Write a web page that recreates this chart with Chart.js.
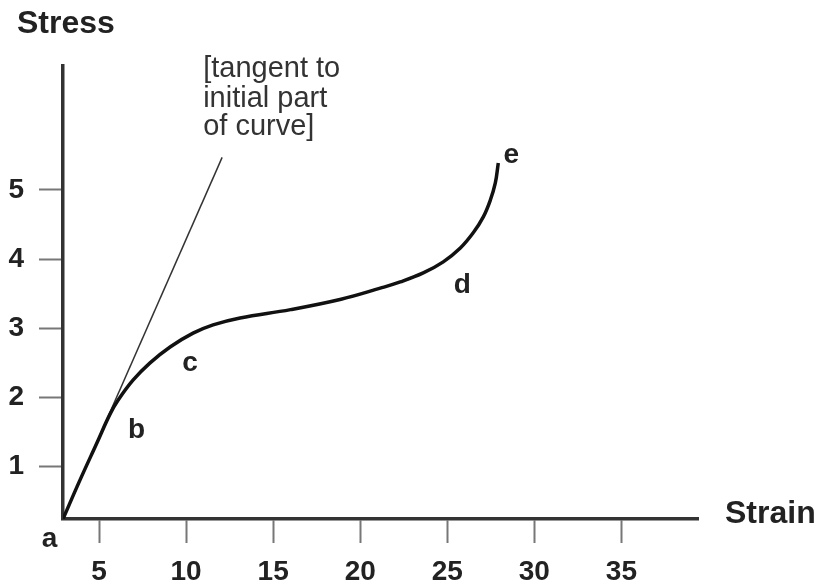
<!DOCTYPE html>
<html>
<head>
<meta charset="utf-8">
<script src="https://cdn.jsdelivr.net/npm/chart.js@4"></script>
<style>
  html, body { margin: 0; padding: 0; background: #fff; }
  #wrap { width: 821px; height: 588px; }
</style>
</head>
<body>
<div id="wrap"><canvas id="chartCanvas" width="821" height="588"></canvas></div>
<script>
// stress-strain curve
const strain = [2.93, 3.91, 4.87, 5.63, 6.09, 6.95, 7.93, 9.08, 10.4, 11.55, 13.1, 16.0, 18.9, 21.15, 22.3, 23.62, 24.77, 25.75, 26.49, 27.07, 27.47, 27.76, 27.93];
const stress = [0.245, 0.81, 1.34, 1.76, 1.96, 2.25, 2.5, 2.73, 2.93, 3.05, 3.15, 3.27, 3.42, 3.58, 3.67, 3.8, 3.96, 4.16, 4.38, 4.61, 4.85, 5.1, 5.39];

// tangent to initial part of curve
const tangentX = [2.93, 12.07];
const tangentY = [0.245, 5.47];

const xTicks = [5, 10, 15, 20, 25, 30, 35];
const yTicks = [1, 2, 3, 4, 5];

// point letters (centre x, baseline y in data units)
const pointLabels = ["a", "b", "c", "d", "e"];
const labelX = [2.16, 7.15, 10.23, 25.86, 28.68];
const labelY = [-0.16, 1.415, 2.38, 3.51, 5.39];

const noteLines = ["[tangent to", "initial part", "of curve]"];
const noteX = 10.98;
const noteY = [6.63, 6.2, 5.8];

const textColor = "#222";
const axisColor = "#333";

const annotations = {
  id: "annotations",
  afterDraw(chart) {
    const ctx = chart.ctx;
    const xs = chart.scales.x;
    const ys = chart.scales.y;
    const area = chart.chartArea;
    ctx.save();
    ctx.fillStyle = textColor;

    // axis titles
    ctx.font = "bold 32px 'Liberation Sans', Arial, sans-serif";
    ctx.textAlign = "left";
    ctx.textBaseline = "alphabetic";
    ctx.fillText("Stress", area.left - 46, area.top - 33);
    ctx.fillText("Strain", area.right + 27, area.bottom + 4);

    // point letters
    ctx.font = "bold 28px 'Liberation Sans', Arial, sans-serif";
    ctx.textAlign = "center";
    pointLabels.forEach((t, i) => {
      ctx.fillText(t, xs.getPixelForValue(labelX[i]), ys.getPixelForValue(labelY[i]));
    });

    // note
    ctx.fillStyle = "#333";
    ctx.font = "29px 'Liberation Sans', Arial, sans-serif";
    ctx.textAlign = "left";
    noteLines.forEach((t, i) => {
      ctx.fillText(t, xs.getPixelForValue(noteX), ys.getPixelForValue(noteY[i]));
    });
    ctx.restore();
  },
};

const tickFont = { family: "'Liberation Sans', Arial, sans-serif", size: 28, weight: "bold" };

new Chart(document.getElementById("chartCanvas").getContext("2d"), {
  type: "scatter",
  data: {
    datasets: [
      {
        data: strain.map((v, i) => ({ x: v, y: stress[i] })),
        showLine: true,
        borderColor: "#111",
        borderWidth: 3.5,
        pointRadius: 0,
        tension: 0.4,
      },
      {
        data: tangentX.map((v, i) => ({ x: v, y: tangentY[i] })),
        showLine: true,
        borderColor: "#333",
        borderWidth: 1.5,
        pointRadius: 0,
      },
    ],
  },
  options: {
    responsive: false,
    devicePixelRatio: 1,
    animation: false,
    layout: { padding: { top: 66, right: 123, left: 0, bottom: 0 } },
    plugins: { legend: { display: false }, tooltip: { enabled: false } },
    scales: {
      x: {
        type: "linear",
        min: 2.93,
        max: 39.4,
        afterBuildTicks: (s) => { s.ticks = xTicks.map((v) => ({ value: v })); },
        afterFit: (s) => { s.height = 69; },
        border: { display: true, color: axisColor, width: 3.5 },
        grid: { drawOnChartArea: false, drawTicks: true, tickLength: 24, tickColor: "#777", tickWidth: 2 },
        ticks: { color: textColor, font: tickFont, padding: 12, maxRotation: 0 },
      },
      y: {
        type: "linear",
        min: 0.245,
        max: 6.79,
        afterBuildTicks: (s) => { s.ticks = yTicks.map((v) => ({ value: v })); },
        afterFit: (s) => { s.width = 63; },
        border: { display: true, color: axisColor, width: 3.5 },
        grid: { drawOnChartArea: false, drawTicks: true, tickLength: 24, tickColor: "#777", tickWidth: 2 },
        ticks: { color: textColor, font: tickFont, padding: 15 },
      },
    },
  },
  plugins: [annotations],
});
</script>
</body>
</html>
